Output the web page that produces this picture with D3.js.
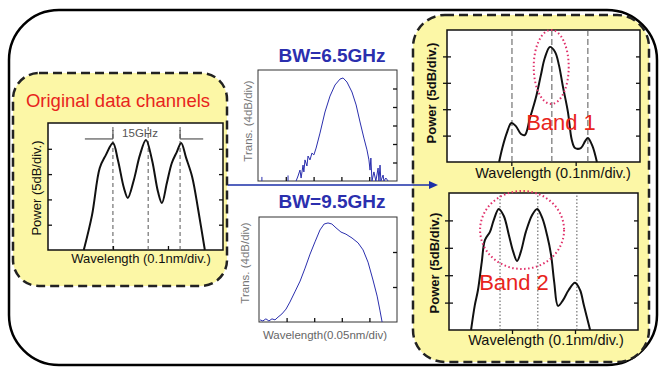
<!DOCTYPE html>
<html>
<head>
<meta charset="utf-8">
<script src="https://cdn.jsdelivr.net/npm/d3@7"></script>
<style>
  body { margin: 0; background: #fff; }
  text { font-family: "Liberation Sans", Arial, sans-serif; }
</style>
</head>
<body>
<svg id="chart" width="659" height="368"></svg>
<script>
// values in divisions (x: wavelength div, y: power / transmission div)
const origChannels = [[-0.53,0],[-0.38,1.38],[-0.24,3.24],[-0.13,3.75],[0,4.23],[0.09,3.56],[0.2,2.45],[0.27,2.06],
  [0.38,2.77],[0.49,3.75],[0.6,4.35],[0.71,3.56],[0.82,2.29],[0.89,1.86],[0.98,2.65],[1.07,3.44],[1.16,3.87],
  [1.24,4.23],[1.33,3.64],[1.44,2.89],[1.55,1.58],[1.67,0]];
const origPeaks = [0, 0.64, 1.22];
const origTicksX = [0, 1];
const origTicksY = [1, 2, 3, 4];

const bw65 = [[1.37,0],[1.44,0.27],[1.51,0.59],[1.55,0.16],[1.62,0.86],[1.65,0.49],[1.69,1.14],[1.76,0.81],
  [1.8,1.35],[1.87,1.14],[1.94,1.51],[2.01,1.41],[2.09,1.78],[2.23,2.59],[2.41,3.73],[2.59,4.59],[2.77,5.19],
  [2.95,5.51],[3.06,5.57],[3.2,5.35],[3.38,4.81],[3.53,4.11],[3.67,3.19],[3.81,2.32],[3.92,1.68],[3.99,1.14],
  [4.03,0.59],[4.06,1.24],[4.1,0],[4.17,0.49],[4.24,0],[4.32,0.7],[4.35,0],[4.39,0.86],[4.42,0],[4.5,0.32],
  [4.53,0],[4.6,0.16],[4.68,0]];
const bw65Spikes = [[0.14,0.22],[1.08,0.3]];
const bw95 = [[0.04,0.06],[0.14,0.03],[0.25,0.09],[0.36,0.03],[0.47,0.09],[0.58,0.06],[0.69,0.14],[0.83,0.23],
  [0.98,0.37],[1.12,0.57],[1.3,0.86],[1.49,1.17],[1.67,1.54],[1.85,1.94],[2.03,2.29],[2.21,2.63],[2.36,2.8],
  [2.5,2.83],[2.64,2.8],[2.79,2.69],[2.97,2.57],[3.15,2.51],[3.37,2.4],[3.59,2.26],[3.77,2.06],[3.95,1.71],
  [4.13,1.2],[4.28,0.74],[4.38,0.34],[4.46,0]];
const filterTicksX = [1, 2, 3, 4];

const band1 = [[0.81,0],[0.86,0.53],[0.93,1.1],[1,1.48],[1.07,1.36],[1.15,1.06],[1.21,1.02],[1.29,1.67],
  [1.38,2.42],[1.46,3.3],[1.52,3.94],[1.6,4.36],[1.68,4.17],[1.74,3.67],[1.8,2.88],[1.88,1.89],[1.94,0.83],
  [1.99,0.53],[2.08,0.53],[2.15,0.8],[2.19,0.91],[2.26,0.61],[2.33,0]];
const band1Lines = [1.01, 1.63, 2.19];
const band1Mark = [1.62, 3.6];

const band2 = [[0.35,0],[0.41,0.91],[0.46,1.46],[0.52,2.48],[0.57,3.28],[0.65,3.58],[0.71,4.01],[0.79,4.42],
  [0.87,4.16],[0.95,3.47],[1.02,2.85],[1.08,2.52],[1.14,2.85],[1.22,3.58],[1.32,4.2],[1.4,4.42],[1.48,4.09],
  [1.56,3.43],[1.62,2.74],[1.67,1.75],[1.73,0.88],[1.81,1.09],[1.9,1.46],[2,1.72],[2.08,1.46],[2.14,0.91],[2.24,0]];
const band2Lines = [0.81, 1.41, 2.03];
const band2Mark = [1.16, 3.65];
const bandTicksX = [1, 2];
const bandTicksY = [1, 2, 3, 4];

const svg = d3.select("#chart");
const RED = "#e8241c", BLUE = "#2b2fae", YELLOW = "#fcf7a6";

// frames
svg.append("rect").attr("x", 9).attr("y", 10).attr("width", 648).attr("height", 355).attr("rx", 50)
  .attr("fill", "#fff").attr("stroke", "#000").attr("stroke-width", 2.5);
svg.append("rect").attr("x", 13).attr("y", 73).attr("width", 214).attr("height", 213).attr("rx", 26)
  .attr("fill", YELLOW).attr("stroke", "#222").attr("stroke-width", 2.5).attr("stroke-dasharray", "9,5");
svg.append("rect").attr("x", 413).attr("y", 15).attr("width", 236).attr("height", 347).attr("rx", 32)
  .attr("fill", YELLOW).attr("stroke", "#222").attr("stroke-width", 2.5).attr("stroke-dasharray", "9,5");

function plot(c) {
  const g = svg.append("g");
  const x = d3.scaleLinear().domain(c.xd).range([c.left, c.left + c.w]);
  const y = d3.scaleLinear().domain(c.yd).range([c.top + c.h, c.top]);
  g.append("rect").attr("x", c.left).attr("y", c.top).attr("width", c.w).attr("height", c.h)
    .attr("fill", "#fff").attr("stroke", c.frame || "#111").attr("stroke-width", c.frameW || 1.5);

  g.selectAll(".vl").data(c.vlines || []).join("line")
    .attr("x1", d => x(d)).attr("x2", d => x(d))
    .attr("y1", y(c.yd[0])).attr("y2", y(c.yd[1]))
    .attr("stroke", "#555").attr("stroke-width", 1).attr("stroke-dasharray", c.dash);

  const cross = c.cross ? 4 : 0;
  const ax = (axis, tx) => {
    const a = g.append("g").attr("transform", tx).call(axis.tickFormat("").tickSizeOuter(0));
    a.select(".domain").remove();
    a.selectAll(".tick line").attr("stroke", "#111").attr("stroke-width", 1.3);
    return a;
  };
  if (c.xt) {
    const a = ax(d3.axisBottom(x).tickValues(c.xt).tickSize(-4), `translate(0,${c.top + c.h})`);
    if (cross) a.selectAll(".tick line").attr("y2", cross);
  }
  if (c.yl) {
    const a = ax(d3.axisLeft(y).tickValues(c.yl).tickSize(-4), `translate(${c.left},0)`);
    if (cross) a.selectAll(".tick line").attr("x1", -cross);
  }
  if (c.yr) ax(d3.axisRight(y).tickValues(c.yr).tickSize(-4), `translate(${c.left + c.w},0)`);

  g.append("path").datum(c.data)
    .attr("fill", "none").attr("stroke", c.color).attr("stroke-width", c.lw)
    .attr("stroke-linejoin", "round")
    .attr("d", d3.line().x(d => x(d[0])).y(d => y(d[1])).curve(c.curve || d3.curveLinear));
  return { g, x, y };
}

function vtext(x, y, str, size, color, weight) {
  svg.append("text").attr("transform", `translate(${x},${y}) rotate(-90)`)
    .attr("text-anchor", "middle").attr("font-size", size).attr("fill", color)
    .attr("font-weight", weight || "normal").text(str);
}
function htext(x, y, str, size, color, weight) {
  return svg.append("text").attr("x", x).attr("y", y).attr("text-anchor", "middle")
    .attr("font-size", size).attr("fill", color).attr("font-weight", weight || "normal").text(str);
}

// ---- original channels
htext(118, 107, "Original data channels", 18.5, RED);
const p0 = plot({ left: 48, top: 123, w: 175, h: 127, xd: [-1.18, 2], yd: [0, 5.02],
  xt: origTicksX, yl: origTicksY, yr: origTicksY, vlines: origPeaks, dash: "4,3",
  data: origChannels, color: "#111", lw: 2, curve: d3.curveCatmullRom });
// 15GHz spacing marker
const arrowY = p0.y(4.39), barTop = p0.y(4.74);
[[origPeaks[0], -0.51], [origPeaks[2], 1.64]].forEach(([px, tail]) => {
  p0.g.append("line").attr("x1", p0.x(px)).attr("x2", p0.x(px)).attr("y1", barTop).attr("y2", arrowY)
    .attr("stroke", "#555").attr("stroke-width", 1.2);
  p0.g.append("line").attr("x1", p0.x(tail)).attr("x2", p0.x(px)).attr("y1", arrowY).attr("y2", arrowY)
    .attr("stroke", "#555").attr("stroke-width", 1.2);
});
htext(140, 137, "15GHz", 11.5, "#555");
vtext(41, 188, "Power (5dB/div.)", 13, "#111");
htext(141, 263, "Wavelength (0.1nm/div.)", 13, "#111");

// ---- filters
htext(332, 62, "BW=6.5GHz", 19, BLUE, "bold");
const p1 = plot({ left: 258, top: 70, w: 139, h: 111, xd: [0, 5], yd: [0, 6],
  xt: filterTicksX, yr: [1, 2, 3, 4, 5], data: bw65, color: BLUE, lw: 1, frame: "#333", frameW: 1 });
p1.g.selectAll(".sp").data(bw65Spikes).join("line")
  .attr("x1", d => p1.x(d[0])).attr("x2", d => p1.x(d[0]))
  .attr("y1", p1.y(0)).attr("y2", d => p1.y(d[1])).attr("stroke", BLUE).attr("stroke-width", 1);
vtext(252, 121, "Trans. (4dB/div)", 11.5, "#777");

htext(332, 208, "BW=9.5GHz", 19, BLUE, "bold");
plot({ left: 259, top: 217, w: 138, h: 105, xd: [0, 5], yd: [0, 3],
  xt: filterTicksX, yr: [1, 2], data: bw95, color: BLUE, lw: 1, frame: "#333", frameW: 1 });
vtext(249, 263, "Trans. (4dB/div)", 11.5, "#777");
htext(325, 339, "Wavelength(0.05nm/div)", 11.5, "#666");

// arrow
svg.append("line").attr("x1", 228).attr("x2", 430).attr("y1", 185).attr("y2", 185)
  .attr("stroke", "#1b2fa8").attr("stroke-width", 1.6);
svg.append("path").attr("d", "M429,181 L438,185 L429,189 Z").attr("fill", "#1b2fa8");

// ---- band 1
const p2 = plot({ left: 447, top: 30, w: 193, h: 132, xd: [0, 3], yd: [0, 5],
  xt: bandTicksX, yl: bandTicksY, yr: bandTicksY, vlines: band1Lines, dash: "6,3", cross: true,
  data: band1, color: "#111", lw: 2, curve: d3.curveCatmullRom });
p2.g.append("ellipse").attr("cx", p2.x(band1Mark[0])).attr("cy", p2.y(band1Mark[1]))
  .attr("rx", 17.5).attr("ry", 37).attr("fill", "none").attr("stroke", "#e0306a")
  .attr("stroke-width", 2).attr("stroke-dasharray", "1.5,2.5");
htext(561, 130, "Band 1", 22, RED);
vtext(436, 93, "Power (5dB/div.)", 13, "#111", "bold");
htext(553, 178, "Wavelength (0.1nm/div.)", 14.5, "#111");

// ---- band 2
const p3 = plot({ left: 449, top: 193, w: 189, h: 137, xd: [0, 3], yd: [0, 5],
  xt: bandTicksX, yl: bandTicksY, yr: bandTicksY, vlines: band2Lines, dash: "1.5,2", cross: true,
  data: band2, color: "#111", lw: 2, curve: d3.curveCatmullRom });
p3.g.append("ellipse").attr("cx", p3.x(band2Mark[0])).attr("cy", p3.y(band2Mark[1]))
  .attr("rx", 42).attr("ry", 39).attr("fill", "none").attr("stroke", "#e0306a")
  .attr("stroke-width", 2).attr("stroke-dasharray", "1.5,2.5");
htext(514, 290, "Band 2", 22, RED);
vtext(439, 263, "Power (5dB/div.)", 13, "#111", "bold");
htext(546, 345, "Wavelength (0.1nm/div.)", 14.5, "#111");
</script>
</body>
</html>
